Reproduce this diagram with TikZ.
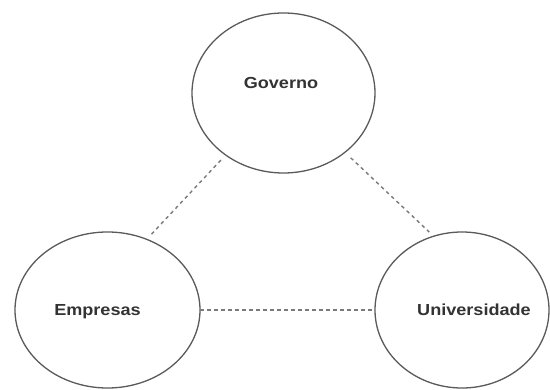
\documentclass[tikz,border=0pt]{standalone}
\usepackage{fontspec}
\setmainfont{Liberation Sans}
\usetikzlibrary{shapes.geometric}
\definecolor{edgegray}{HTML}{5A5A5A}
\definecolor{dashgray}{HTML}{7A7A7A}
\definecolor{txtgray}{HTML}{333333}
\tikzset{
  actor/.style={ellipse, draw=edgegray, line width=1.3pt, inner sep=0pt, outer sep=0pt},
  lbl/.style={anchor=base, inner sep=0pt, text=txtgray, font=\fontsize{16}{18}\selectfont\bfseries},
  link/.style={draw=dashgray, line width=1.4pt, dash pattern=on 3.5pt off 3.5pt}
}
\newcommand{\wide}[1]{\scalebox{1.13}[1]{#1}}
\begin{document}
\begin{tikzpicture}[x=1pt,y=-1pt]
\useasboundingbox (0,0) rectangle (550,390);
\fill[white] (0,0) rectangle (550,390);
\node[actor, minimum width=183pt, minimum height=160pt] (G) at (283.5,93) {};
\node[actor, minimum width=185pt, minimum height=156pt] (E) at (107.5,310) {};
\node[actor, minimum width=174pt, minimum height=156pt] (U) at (462,310) {};
\node[lbl] (tG) at (281,89) {\wide{Governo}};
\node[lbl] (tE) at (97.5,316) {\wide{Empresas}};
\node[lbl] (tU) at (474,316) {\wide{Universidade}};
\draw[link, shorten <=7pt, shorten >=7pt] (G.227) -- (E.61);
\draw[link, shorten <=8pt, shorten >=6pt] (G.316) -- (U.111);
\draw[link] (E.east) -- (U.west);
\end{tikzpicture}
\end{document}
